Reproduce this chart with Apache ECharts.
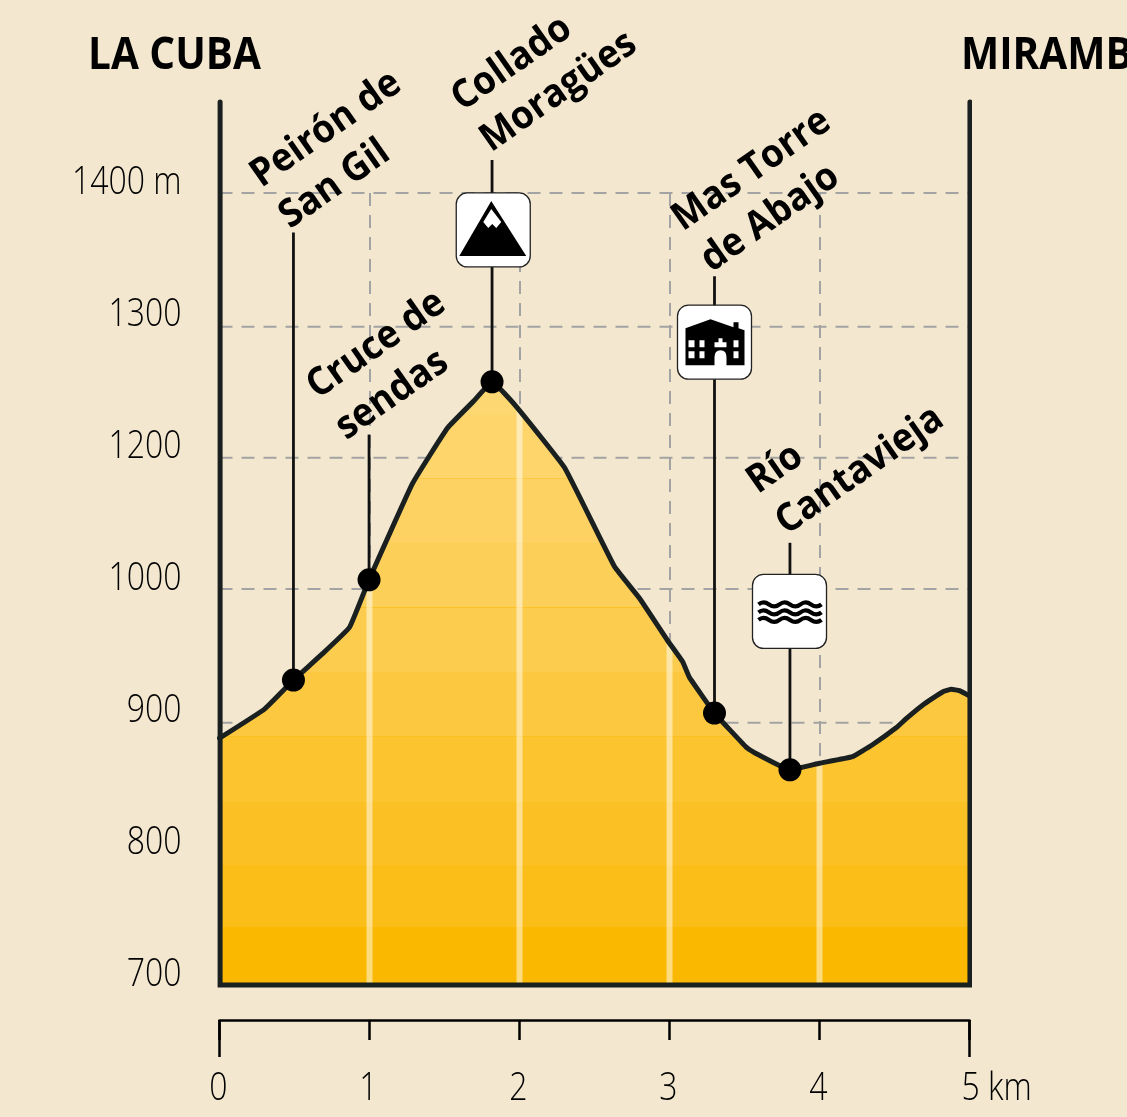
<!DOCTYPE html>
<html>
<head>
<meta charset="utf-8">
<style>
  html, body { margin: 0; padding: 0; background: #F3E7CF; overflow: hidden; }
  #chart { width: 1127px; height: 1117px; }
</style>
<script src="https://cdn.jsdelivr.net/npm/echarts@6/dist/echarts.min.js"></script>
</head>
<body>
<div id="chart"></div>
<script>
// the printed scale skips 1100, so the axis runs linear and only the labels are swapped
const tickLabels = ['700', '800', '900', '1000', '1200', '1300', '1400 m']
const tickHeights = [700, 800, 900, 1000, 1100, 1200, 1300]
const kmTicks = ['0', '1', '2', '3', '4', '5 km']
const kmValues = [0, 1, 2, 3, 4, 5]

// dashed rules are not quite evenly spaced in the print
const ruleHeights = [898.7, 1000, 1099.5, 1198.7, 1300]

const profileKm = [0, 0.3, 0.493, 0.687, 0.867, 0.997, 1.287, 1.52, 1.7, 1.817, 1.98, 2.3, 2.633, 2.8, 2.987, 3.087, 3.133, 3.3, 3.513, 3.567, 3.803, 4, 4.22, 4.353, 4.513, 4.58, 4.687, 4.82, 4.88, 4.933, 5]
const profileHeight = [887, 909, 931, 951, 971, 1007, 1080, 1122, 1143, 1157, 1138, 1092, 1017, 993, 961, 945, 933, 906, 880, 876, 863, 868, 873, 882, 895, 902, 912, 922, 924, 923, 919]

const stripeKm = [1, 2, 3, 4]
const stripeHeight = [1007, 1136, 960, 868]

const frameKm = [0.004, 5.003]
const frameTop = 1369

const placeNames = ['Peirón de\nSan Gil', 'Cruce de\nsendas', 'Collado\nMoragües', 'Mas Torre\nde Abajo', 'Río\nCantavieja']
const placeKm = [0.493, 0.997, 1.817, 3.3, 3.803]
const placeHeight = [931, 1007, 1157, 906, 863]
const stemTop = [1270, 1117, 1325, 1237, 1035]
const nameKm = [0.14, 0.515, 1.48, 2.95, 3.45]
const nameHeight = [1326, 1166, 1384, 1293, 1094]

const iconKm = [1.825, 3.3, 3.8]
const iconHeight = [1272, 1187, 983]

const bandColors = ['#FAB900', '#FBBD17', '#FBC024', '#FCC42F', '#FCC83F', '#FCCC4E', '#FCCF58', '#FDD262', '#FDD56B', '#FDD872']
const bandEdges = [985, 927, 865, 802, 737, 672, 608, 543, 479, 415, 370]
const seamEdges = { 737: '#FBBF22', 608: '#FDC227', 479: '#FBC840' }

const mountainPath = 'M35 8L70 63L3 63ZM35 16L27 29L32 35L36 31L40 35L45 29Z'
const housePath = 'M8 60L8 23L33 14L56 22L56 17L61 17L61 23L67 25L67 60Z' +
  'M11 35L11 42L17 42L17 35ZM22 35L22 42L27 42L27 35ZM11 46L11 53L17 53L17 46ZM22 46L22 53L27 53L27 46Z' +
  'M56 35L56 42L61 42L61 35ZM56 46L56 53L61 53L61 46Z' +
  'M37 37L37 42L49 42L49 37L45 37L45 33L41 33L41 37Z' +
  'M37 60L49 60L49 52Q49 45 43 45Q37 45 37 52Z'
const wavePath = 'M6 30q5 -4 10.5 0t10.5 0t10.5 0t10.5 0t10.5 0t10.5 0' +
  'M6 38q5 -4 10.5 0t10.5 0t10.5 0t10.5 0t10.5 0t10.5 0' +
  'M6 45.5q5 -4 10.5 0t10.5 0t10.5 0t10.5 0t10.5 0t10.5 0'

const dark = '#1A2020'
const textFont = '"Open Sans", sans-serif'

const zip = (a, b) => a.map((v, i) => [v, b[i]])

const bandStops = () => {
  const top = bandEdges[bandEdges.length - 1]
  const bottom = bandEdges[0]
  const at = (px, color) => ({ offset: (px - top) / (bottom - top), color })
  const stops = []
  for (let i = bandColors.length - 1; i >= 0; i--) {
    const color = bandColors[i]
    const seam = seamEdges[bandEdges[i]]
    stops.push(at(bandEdges[i + 1], color))
    if (seam) {
      stops.push(at(bandEdges[i] - 1, color), at(bandEdges[i] - 1, seam), at(bandEdges[i], seam))
    } else {
      stops.push(at(bandEdges[i], color))
    }
  }
  return stops
}

const tickText = (text, x, y, align) => ({
  type: 'text',
  x,
  y,
  scaleX: 0.82,
  style: { text, fill: '#000', fontFamily: textFont, fontWeight: 300, fontSize: 39, textAlign: align, textVerticalAlign: 'middle' },
})

const chart = echarts.init(document.getElementById('chart'))

const option = {
  backgroundColor: '#F3E7CF',
  animation: false,
  grid: { left: 219.5, right: 157.5, top: 193, bottom: 132 },
  xAxis: {
    type: 'value',
    min: 0,
    max: 5,
    interval: 1,
    offset: 35,
    axisLine: { show: true, onZero: false, lineStyle: { color: '#000', width: 2.5 } },
    axisTick: { show: true, length: 20, lineStyle: { color: '#000', width: 2.5 } },
    axisLabel: { show: false },
    splitLine: { show: true, lineStyle: { color: '#A3A3A3', width: 2, type: [13, 9] } },
  },
  yAxis: {
    type: 'value',
    min: 700,
    max: 1300,
    interval: 100,
    axisLine: { show: false },
    axisTick: { show: false },
    axisLabel: { show: false },
    splitLine: { show: false },
  },
  graphic: [
    { type: 'text', x: 88, y: 34, scaleX: 0.9, style: { text: 'LA CUBA', fill: '#000', fontFamily: textFont, fontWeight: 'bold', fontSize: 45 } },
    { type: 'text', x: 961, y: 34, scaleX: 0.9, style: { text: 'MIRAMBEL', fill: '#000', fontFamily: textFont, fontWeight: 'bold', fontSize: 45 } },
  ],
  series: [
    {
      name: 'rules',
      type: 'custom',
      z: 1,
      data: ruleHeights.map(h => [h]),
      encode: { y: 0 },
      renderItem: (params, api) => {
        const from = api.coord([0, api.value(0)])
        const to = api.coord([5, api.value(0)])
        return {
          type: 'line',
          shape: { x1: from[0], y1: from[1], x2: to[0], y2: to[1] },
          style: { stroke: '#A3A3A3', lineWidth: 2, lineDash: [13, 9] },
        }
      },
    },
    {
      name: 'fill',
      type: 'line',
      z: 2,
      smooth: 0.1,
      symbol: 'none',
      data: zip(profileKm, profileHeight),
      lineStyle: { width: 0 },
      areaStyle: {
        opacity: 1,
        color: { type: 'linear', global: true, x: 0, y: bandEdges[bandEdges.length - 1], x2: 0, y2: bandEdges[0], colorStops: bandStops() },
      },
    },
    {
      name: 'stripes',
      type: 'bar',
      z: 3,
      barWidth: 6,
      silent: true,
      data: zip(stripeKm, stripeHeight),
      itemStyle: { color: 'rgba(255,255,255,0.5)' },
    },
    {
      name: 'outline',
      type: 'line',
      z: 4,
      smooth: 0.1,
      symbol: 'none',
      clip: false,
      data: zip(profileKm, profileHeight),
      lineStyle: { color: dark, width: 5, cap: 'round', join: 'round' },
    },
    {
      name: 'frame',
      type: 'line',
      z: 5,
      symbol: 'none',
      clip: false,
      data: [[frameKm[0], frameTop], [frameKm[0], 700], [frameKm[1], 700], [frameKm[1], frameTop]],
      lineStyle: { color: dark, width: 5, cap: 'round', join: 'miter' },
    },
    {
      name: 'ruler ends',
      type: 'line',
      z: 5,
      symbol: 'none',
      clip: false,
      connectNulls: false,
      data: [[0, 673.5], [0, 645.5], [0, null], [5, 673.5], [5, 645.5]],
      lineStyle: { color: '#000', width: 2.5 },
    },
    {
      name: 'height labels',
      type: 'custom',
      z: 5,
      data: tickHeights.map(h => [h]),
      encode: { y: 0 },
      renderItem: (params, api) => {
        const c = api.coord([0, api.value(0)])
        return tickText(tickLabels[params.dataIndex], c[0] - 38, c[1] - 10.5, 'right')
      },
    },
    {
      name: 'km labels',
      type: 'custom',
      z: 5,
      data: kmValues.map(v => [v]),
      encode: { x: 0 },
      renderItem: (params, api) => {
        const c = api.coord([api.value(0), 700])
        // the last tick carries the unit, its digit stays on the tick
        return params.dataIndex === 5
          ? tickText(kmTicks[5], c[0] - 8, c[1] + 104, 'left')
          : tickText(kmTicks[params.dataIndex], c[0] - 1, c[1] + 104, 'center')
      },
    },
    {
      name: 'stems',
      type: 'custom',
      z: 6,
      data: placeKm.map((km, i) => [km, placeHeight[i], stemTop[i]]),
      renderItem: (params, api) => {
        const from = api.coord([api.value(0), api.value(1)])
        const to = api.coord([api.value(0), api.value(2)])
        return {
          type: 'line',
          shape: { x1: from[0], y1: from[1], x2: to[0], y2: to[1] },
          style: { stroke: '#111', lineWidth: 2.8 },
        }
      },
    },
    {
      name: 'places',
      type: 'scatter',
      z: 7,
      symbolSize: 23,
      clip: false,
      data: zip(placeKm, placeHeight),
      itemStyle: { color: '#000', opacity: 1 },
    },
    {
      name: 'icons',
      type: 'custom',
      z: 8,
      data: zip(iconKm, iconHeight),
      renderItem: (params, api) => {
        const c = api.coord([api.value(0), api.value(1)])
        const glyph = [
          { type: 'path', shape: { pathData: mountainPath }, style: { fill: '#000' } },
          { type: 'path', shape: { pathData: housePath }, style: { fill: '#000' } },
          { type: 'path', shape: { pathData: wavePath }, style: { fill: 'none', stroke: '#000', lineWidth: 4.2 } },
        ][params.dataIndex]
        return {
          type: 'group',
          x: c[0] - 37,
          y: c[1] - 37,
          children: [
            { type: 'rect', shape: { x: 0, y: 0, width: 74, height: 74, r: 11 }, style: { fill: '#fff', stroke: '#222', lineWidth: 1.3 } },
            glyph,
          ],
        }
      },
    },
    {
      name: 'names',
      type: 'custom',
      z: 9,
      data: nameKm.map((km, i) => [km, nameHeight[i]]),
      renderItem: (params, api) => {
        const c = api.coord([api.value(0), api.value(1)])
        return {
          type: 'text',
          x: c[0],
          y: c[1],
          rotation: 35 * Math.PI / 180,
          scaleX: 0.94,
          style: {
            text: placeNames[params.dataIndex],
            fill: '#000',
            fontFamily: textFont,
            fontWeight: 'bold',
            fontSize: 39,
            lineHeight: 50,
            textAlign: 'left',
            textVerticalAlign: 'top',
          },
        }
      },
    },
  ],
}

chart.setOption(option)
</script>
</body>
</html>
